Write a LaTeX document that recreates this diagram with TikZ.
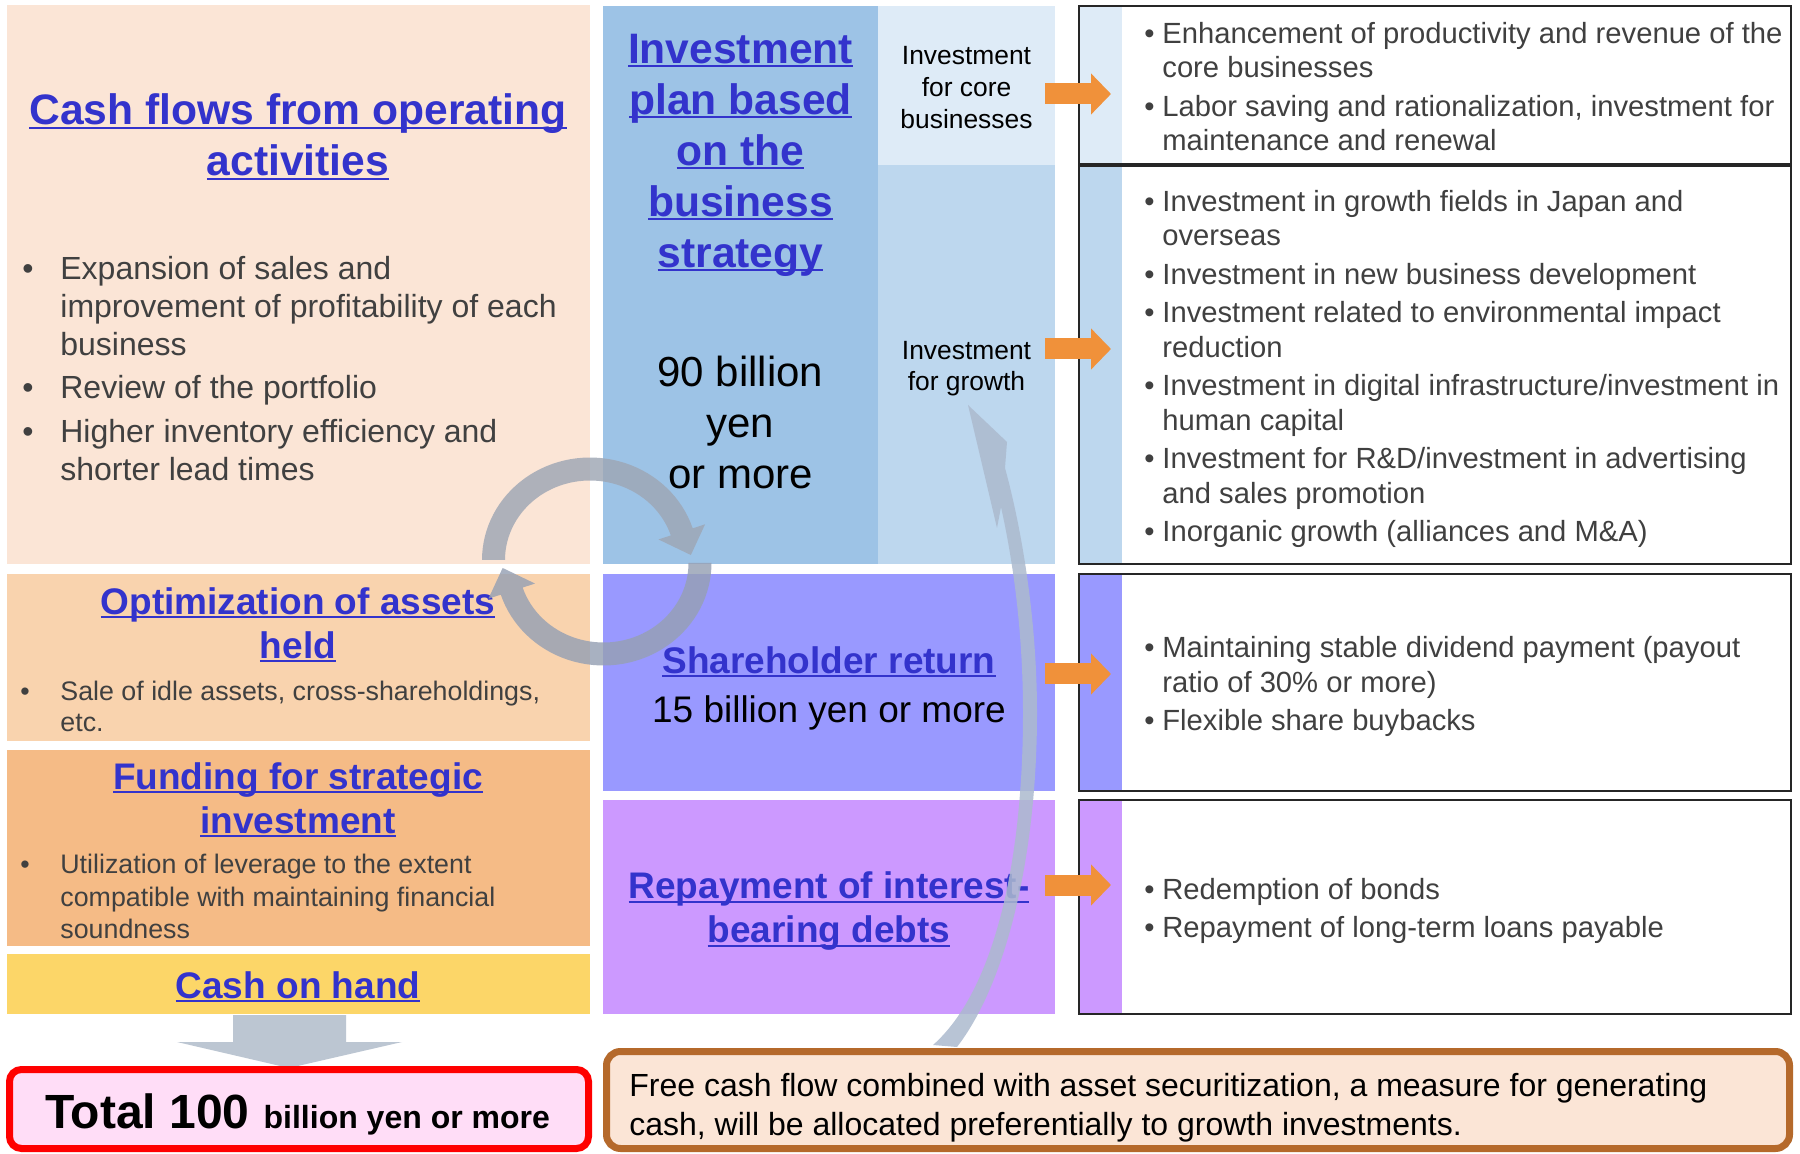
\documentclass[tikz,border=0pt]{standalone}
\usepackage{fontspec}
\setmainfont{Liberation Sans}
\usetikzlibrary{arrows.meta,calc}

\definecolor{hblue}{HTML}{3333CC}
\definecolor{bodygray}{HTML}{404040}
\definecolor{cashbg}{HTML}{FBE5D6}
\definecolor{optbg}{HTML}{F9D3AE}
\definecolor{fundbg}{HTML}{F5BB86}
\definecolor{cohbg}{HTML}{FCD668}
\definecolor{invbg}{HTML}{9DC3E6}
\definecolor{corebg}{HTML}{DEEBF7}
\definecolor{growbg}{HTML}{BDD7EE}
\definecolor{sharebg}{HTML}{9999FF}
\definecolor{repbg}{HTML}{CC99FF}
\definecolor{totbg}{HTML}{FFDDF7}
\definecolor{notebg}{HTML}{FBE5D6}
\definecolor{notebrd}{HTML}{B5692B}
\definecolor{orarr}{HTML}{F0913A}
\definecolor{downgray}{HTML}{BCC6D2}
\definecolor{cycup}{RGB}{158,166,180}
\definecolor{cyclow}{RGB}{150,160,180}
\definecolor{bigarr}{RGB}{172,186,206}

% underline sitting just below the baseline
\newsavebox\hulbox
\newcommand\hul[1]{\sbox\hulbox{#1}\rlap{\rule[-0.1em]{\wd\hulbox}{0.055em}}\usebox\hulbox}
% bullets with hanging indent
\newcommand\lbul[1]{\makebox[#1][l]{•}}
\newcommand\lind[1]{\hspace*{#1}}
\newcommand\rbul{\makebox[9pt][l]{•}}
\newcommand\rind{\hspace*{9pt}}
% panel from (x1,y1) to (x2,y2) in pixel units
\newcommand\pbox[6]{\node[panel,#6,anchor=north west,minimum width={(#4-#2)*0.5pt},minimum height={(#5-#3)*0.5pt}] (#1) at (#2,#3) {};}

\tikzset{
  panel/.style={inner sep=0pt, outer sep=0pt, draw=none},
  hbig/.style={font=\bfseries\fontsize{21.3}{25.5}\selectfont, text=hblue, align=center, inner sep=0pt},
  hmid/.style={font=\bfseries\fontsize{18.5}{22}\selectfont, text=hblue, align=center, inner sep=0pt},
  lbody/.style={font=\fontsize{16}{18.85}\selectfont, text=bodygray, align=left, inner sep=0pt, anchor=west},
  lsmall/.style={font=\fontsize{13.4}{15.8}\selectfont, text=bodygray, align=left, inner sep=0pt, anchor=west},
  rbody/.style={font=\fontsize{14.6}{17.25}\selectfont, text=bodygray, align=left, inner sep=0pt, anchor=west},
  label/.style={font=\fontsize{13.2}{15.8}\selectfont, text=black, align=center, inner sep=0pt},
  detail/.style={draw=black!85, line width=0.75pt},
  orarrow/.style={draw=orarr, line width=10.5pt, -{Triangle[length=10pt,width=20pt]}},
}

\begin{document}
\begin{tikzpicture}[x=0.5pt,y=-0.5pt]
\fill[white] (0,0) rectangle (1800,1154);
\useasboundingbox (0,0) rectangle (1800,1154);

% ---- sources of funds (left column)
\pbox{cash}{7}{5}{590}{564}{fill=cashbg}
\pbox{opt}{7}{574}{590}{741}{fill=optbg}
\pbox{fund}{7}{750}{590}{946}{fill=fundbg}
\pbox{coh}{7}{954}{590}{1014}{fill=cohbg}

% ---- allocation (middle column)
\pbox{inv}{603}{6}{878}{564}{fill=invbg}
\pbox{core}{878}{6}{1055}{165}{fill=corebg}
\pbox{grow}{878}{165}{1055}{564}{fill=growbg}
\pbox{share}{603}{574}{1055}{791}{fill=sharebg}
\pbox{repay}{603}{800}{1055}{1014}{fill=repbg}

% ---- details (right column): colour strip, then framed box
\fill[corebg] (1079,6) rectangle (1122,164);
\fill[growbg] (1079,166) rectangle (1122,564);
\fill[sharebg] (1079,574) rectangle (1122,791);
\fill[repbg] (1079,800) rectangle (1122,1014);
\pbox{coredet}{1079}{6}{1791}{164}{detail}
\pbox{growdet}{1079}{166}{1791}{564}{detail}
\pbox{sharedet}{1079}{574}{1791}{791}{detail}
\pbox{repaydet}{1079}{800}{1791}{1014}{detail}

% ---- down arrow into the total
\fill[downgray] (233,1015) -- (346,1015) -- (346,1042) -- (402,1042) -- (289,1068) -- (177,1042) -- (233,1042) -- cycle;

% ---- total and note boxes
\pbox{total}{9.5}{1069.5}{588.5}{1148.5}{draw=red, line width=3.5pt, fill=totbg, rounded corners=6pt}
\pbox{note}{606.5}{1051.5}{1789.5}{1148.5}{draw=notebrd, line width=3.5pt, fill=notebg, rounded corners=7pt}

% ---- texts, left column
\node[hbig] (tcash) at (298,137) {\hul{Cash flows from operating}\\\hul{activities}};
\node[lbody] (bcash) at (22,368.5) {\lbul{19pt}Expansion of sales and\\
  \lind{19pt}improvement of profitability of each\\
  \lind{19pt}business\\[3pt]
  \lbul{19pt}Review of the portfolio\\[3pt]
  \lbul{19pt}Higher inventory efficiency and\\
  \lind{19pt}shorter lead times};
\node[hmid] (topt) at (298,624.5) {\hul{Optimization of assets}\\\hul{held}};
\node[lsmall] (bopt) at (20,706.5) {\lbul{20pt}Sale of idle assets, cross-shareholdings,\\\lind{20pt}etc.};
\node[hmid] (tfund) at (298,800) {\hul{Funding for strategic}\\\hul{investment}};
\node[lsmall, font=\fontsize{13.4}{16.2}\selectfont] (bfund) at (20,896.5) {\lbul{20pt}Utilization of leverage to the extent\\
  \lind{20pt}compatible with maintaining financial\\
  \lind{20pt}soundness};
\node[hmid] (tcoh) at (298,987) {\hul{Cash on hand}};
\node[font=\bfseries\fontsize{16}{19}\selectfont, inner sep=0pt] (ttotal) at (297.5,1114)
  {{\fontsize{24}{28}\selectfont Total 100\hspace{7pt}}billion yen or more};

% ---- texts, middle column
\node[hbig] (tinv) at (740.5,155) {\hul{Investment}\\\hul{plan based}\\\hul{on the}\\\hul{business}\\\hul{strategy}};
\node[font=\fontsize{21}{25.5}\selectfont, align=center, inner sep=0pt] (t90) at (740.5,422) {90 billion\\yen\\or more};
\node[label] (tcore) at (966.5,87.5) {Investment\\for core\\businesses};
\node[label] (tgrow) at (966.5,368.5) {Investment\\for growth};
\node[hmid] (tshare) at (829,661.5) {\hul{Shareholder return}};
\node[font=\fontsize{18.5}{22}\selectfont, inner sep=0pt] (t15) at (829,712.5) {15 billion yen or more};
\node[hmid] (trep) at (829,911.5) {\hul{Repayment of interest-}\\\hul{bearing debts}};

% ---- texts, right column
\node[rbody] (dcore) at (1144,86.5) {\rbul Enhancement of productivity and revenue of the\\
  \rind core businesses\\[2pt]
  \rbul Labor saving and rationalization, investment for\\
  \rind maintenance and renewal};
\node[rbody] (dgrow) at (1144,369) {\rbul Investment in growth fields in Japan and\\
  \rind overseas\\[2pt]
  \rbul Investment in new business development\\[2pt]
  \rbul Investment related to environmental impact\\
  \rind reduction\\[2pt]
  \rbul Investment in digital infrastructure/investment in\\
  \rind human capital\\[2pt]
  \rbul Investment for R\&D/investment in advertising\\
  \rind and sales promotion\\[2pt]
  \rbul Inorganic growth (alliances and M\&A)};
\node[rbody] (dshare) at (1144,686.5) {\rbul Maintaining stable dividend payment (payout\\
  \rind ratio of 30\% or more)\\[2pt]
  \rbul Flexible share buybacks};
\node[rbody] (drepay) at (1144,911) {\rbul Redemption of bonds\\[2pt]
  \rbul Repayment of long-term loans payable};
\node[font=\fontsize{16}{19.5}\selectfont, align=left, inner sep=0pt, anchor=west] (tnote) at (629,1108)
  {Free cash flow combined with asset securitization, a measure for generating\\
   cash, will be allocated preferentially to growth investments.};

% ---- orange arrows from each allocation to its details
\path (core.east |- 0,94) coordinate (o1a) (coredet.west |- 0,94) coordinate (o1b);
\path (grow.east |- 0,349) coordinate (o2a) (growdet.west |- 0,349) coordinate (o2b);
\path (share.east |- 0,674) coordinate (o3a) (sharedet.west |- 0,674) coordinate (o3b);
\path (repay.east |- 0,885) coordinate (o4a) (repaydet.west |- 0,885) coordinate (o4b);
\draw[orarrow] ([xshift=-5pt]o1a) -- ([xshift=16pt]o1b);
\draw[orarrow] ([xshift=-5pt]o2a) -- ([xshift=16pt]o2b);
\draw[orarrow] ([xshift=-5pt]o3a) -- ([xshift=16pt]o3b);
\draw[orarrow] ([xshift=-5pt]o4a) -- ([xshift=16pt]o4b);

% ---- circulation arrows between the four blocks
\fill[cycup, fill opacity=0.82]
  plot[domain=180:342, samples=50] ({590+108*cos(\x)},{560+102.5*sin(\x)})
  -- ({590+121*cos(342)},{560+115.5*sin(342)})
  -- ({590+101*cos(357)},{560+95*sin(357)})
  -- ({590+72*cos(342)},{560+66.5*sin(342)})
  -- plot[domain=342:180, samples=50] ({590+85*cos(\x)},{560+79.5*sin(\x)}) -- cycle;
\fill[cyclow, fill opacity=0.82]
  plot[domain=0:162, samples=50] ({603.5+108*cos(\x)},{563+102.5*sin(\x)})
  -- ({603.5+121*cos(162)},{563+115.5*sin(162)})
  -- ({603.5+101*cos(177)},{563+95*sin(177)})
  -- ({603.5+72*cos(162)},{563+66.5*sin(162)})
  -- plot[domain=162:0, samples=50] ({603.5+85*cos(\x)},{563+79.5*sin(\x)}) -- cycle;

% ---- curved arrow from the note up to growth investment
\fill[bigarr, fill opacity=0.85]
  (957,1047) .. controls (1005,985) and (1037,860) .. (1037,713)
  .. controls (1037,620) and (1022,530) .. (1005,468)
  -- (1007,442) -- (968,405) -- (997,528) -- (1001,507)
  .. controls (1015,570) and (1023,640) .. (1023,713)
  .. controls (1023,860) and (995,990) .. (933,1045) -- cycle;
\end{tikzpicture}
\end{document}
